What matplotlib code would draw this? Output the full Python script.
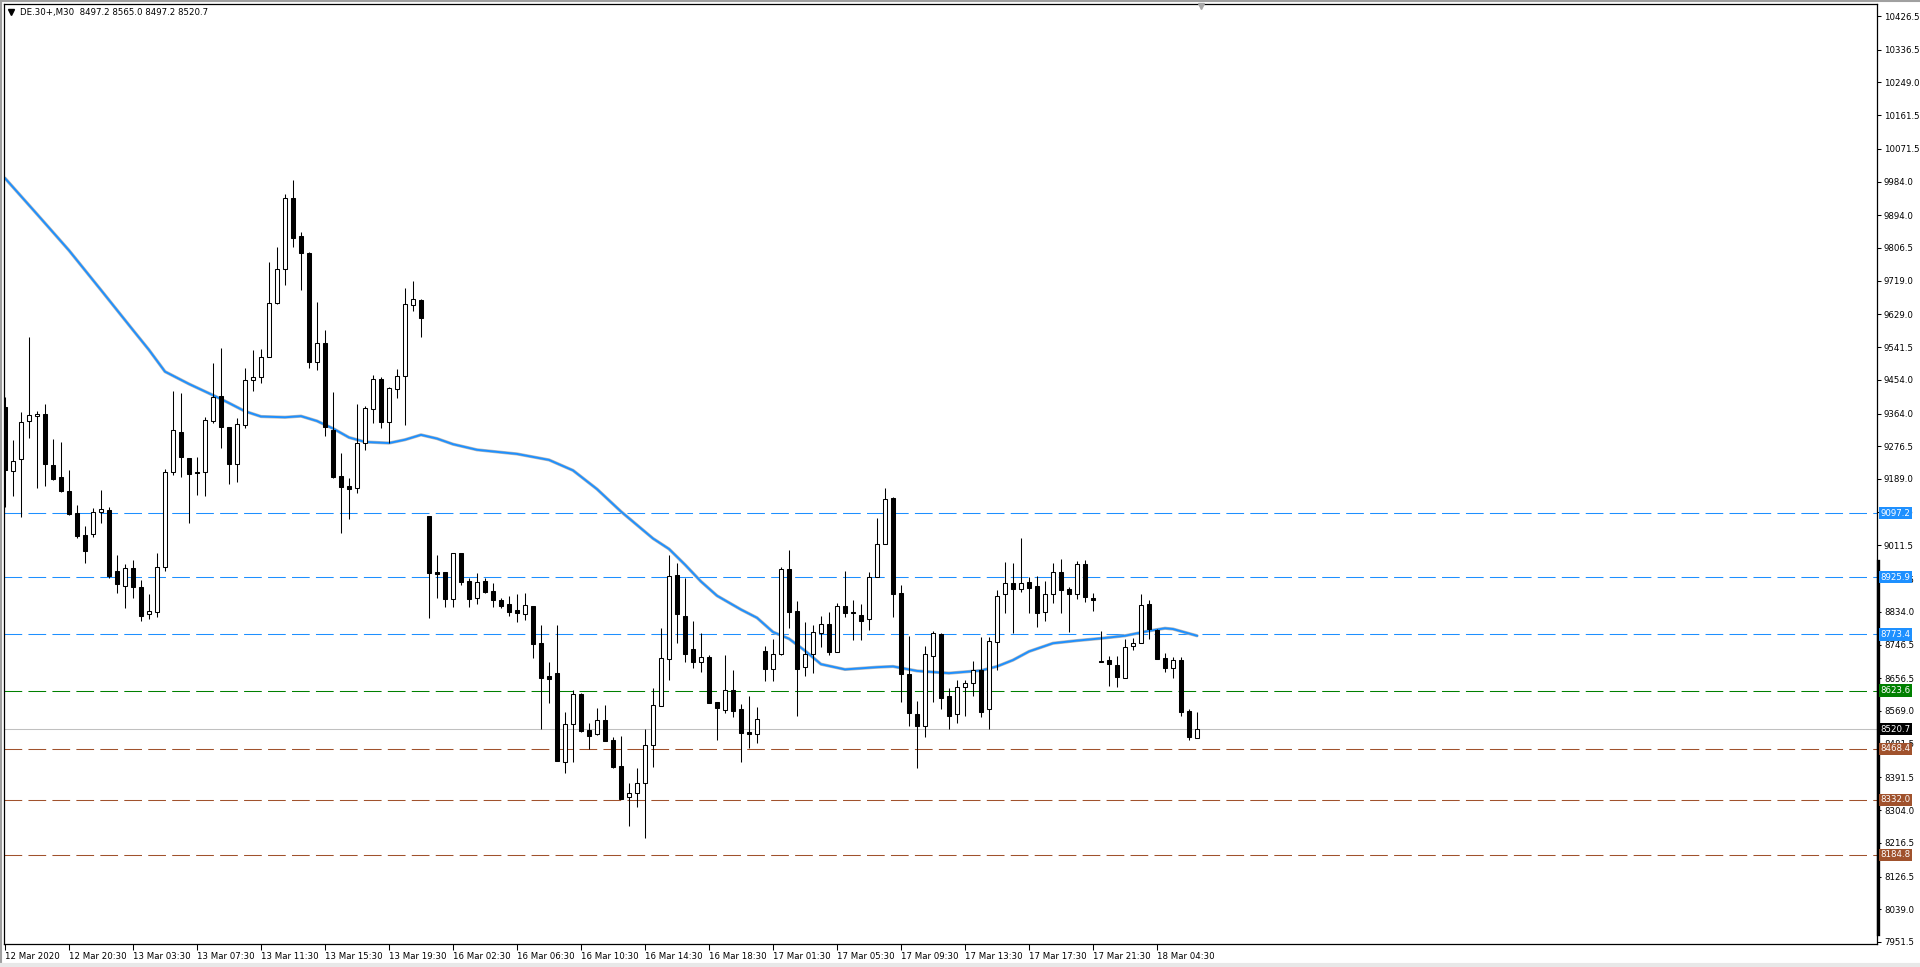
import numpy as np
from matplotlib import pyplot as plt
from matplotlib import transforms
from matplotlib.lines import Line2D

# DE.30+ M30 candles, oldest first
opens = [9382.2, 9211.2, 9241.5, 9344.0, 9357.3, 9362.7, 9226.3, 9194.3, 9156.9, 9097.2,
         9039.3, 9041.0, 9099.8, 9106.1, 8943.0, 8903.8, 8950.1, 8899.4, 8827.2, 8834.3,
         8954.6, 9208.5, 9313.6, 9244.1, 9206.7, 9206.7, 9344.8, 9411.6, 9327.0, 9228.1,
         9333.2, 9453.5, 9460.6, 9515.9, 9658.5, 9750.2, 9939.1, 9838.4, 9792.1, 9500.8,
         9553.4, 9319.9, 9197.0, 9170.2, 9164.0, 9284.2, 9375.1, 9455.3, 9342.1, 9429.5,
         9465.1, 9654.0, 9667.4, 9090.1, 8939.5, 8939.5, 8867.3, 8990.3, 8916.4, 8870.0,
         8916.4, 8889.6, 8865.5, 8854.0, 8838.8, 8827.2, 8849.5, 8749.7, 8662.4, 8669.5,
         8433.4, 8533.2, 8613.4, 8518.1, 8506.5, 8544.8, 8491.3, 8421.8, 8338.1, 8348.8,
         8375.5, 8478.0, 8583.1, 8707.0, 8932.4, 8823.7, 8734.6, 8700.7, 8714.1, 8593.8,
         8571.5, 8625.0, 8574.2, 8511.8, 8507.4, 8729.2, 8680.2, 8720.3, 8948.4, 8836.2,
         8685.6, 8720.3, 8776.5, 8801.4, 8727.4, 8849.5, 8832.6, 8825.5, 8813.9, 8927.9,
         9014.3, 9137.3, 8883.4, 8667.8, 8559.9, 8529.6, 8716.8, 8774.7, 8608.9, 8559.9,
         8632.1, 8642.8, 8678.4, 8573.3, 8754.2, 8880.7, 8910.1, 8894.1, 8912.8, 8903.0,
         8832.6, 8880.7, 8939.5, 8894.1, 8880.7, 8960.9, 8870.0, 8703.4, 8705.2, 8691.8,
         8656.2, 8742.6, 8749.7, 8854.9, 8785.4, 8709.6, 8682.9, 8705.2, 8568.9, 8497.2]
highs = [9409.0, 9293.2, 9367.1, 9569.4, 9370.7, 9389.4, 9295.8, 9286.9, 9213.0, 9119.4,
         9063.3, 9110.5, 9159.5, 9113.2, 8985.8, 8961.7, 8972.4, 8919.0, 8881.5, 8990.2,
         9214.8, 9425.1, 9418.0, 9244.1, 9248.6, 9355.5, 9498.1, 9538.2, 9328.8, 9351.0,
         9484.7, 9533.7, 9535.5, 9768.0, 9808.1, 9949.8, 9988.1, 9848.2, 9794.8, 9663.0,
         9587.2, 9422.4, 9257.5, 9190.7, 9389.4, 9384.9, 9466.0, 9460.6, 9433.9, 9482.0,
         9698.5, 9718.1, 9670.0, 9090.1, 8985.8, 8939.5, 8990.3, 8990.3, 8923.5, 8936.8,
         8925.3, 8910.1, 8871.8, 8877.2, 8881.6, 8883.4, 8849.5, 8798.7, 8700.7, 8798.7,
         8565.3, 8625.0, 8616.1, 8535.9, 8576.0, 8584.9, 8500.2, 8502.9, 8375.5, 8417.4,
         8520.7, 8629.4, 8789.8, 8985.8, 8963.6, 8925.3, 8809.4, 8778.2, 8718.5, 8593.8,
         8718.5, 8678.4, 8587.6, 8609.0, 8578.6, 8742.6, 8761.3, 8954.6, 8999.2, 8862.9,
         8805.9, 8798.7, 8822.8, 8832.6, 8856.6, 8943.1, 8865.5, 8854.0, 8939.5, 9083.8,
         9164.0, 9141.8, 8905.7, 8769.3, 8595.6, 8742.6, 8782.7, 8778.2, 8631.2, 8651.7,
         8651.7, 8702.5, 8765.8, 8767.5, 8892.3, 8966.3, 8963.6, 9030.4, 8927.9, 8929.7,
         8916.4, 8963.6, 8975.1, 8901.2, 8969.8, 8972.5, 8883.4, 8782.7, 8715.9, 8715.9,
         8760.4, 8764.9, 8880.7, 8865.5, 8788.0, 8724.8, 8712.3, 8712.3, 8574.2, 8565.0]
lows = [9113.2, 9143.5, 9088.3, 9297.6, 9164.0, 9171.1, 9186.3, 9155.1, 9092.7, 9030.4,
        8965.3, 9034.8, 9070.4, 8923.4, 8885.1, 8845.0, 8871.7, 8810.3, 8814.7, 8821.0,
        8943.0, 9199.6, 9195.2, 9070.4, 9146.1, 9144.3, 9339.5, 9272.6, 9174.6, 9181.8,
        9324.3, 9425.0, 9446.4, 9514.1, 9657.6, 9707.5, 9809.9, 9694.1, 9486.5, 9480.3,
        9303.9, 9192.5, 9045.4, 9081.1, 9152.4, 9266.4, 9339.5, 9326.1, 9284.2, 9404.5,
        9333.2, 9638.8, 9569.4, 8816.5, 8870.0, 8846.0, 8846.0, 8905.7, 8847.7, 8854.0,
        8883.4, 8847.7, 8845.1, 8823.7, 8807.6, 8812.1, 8709.6, 8519.8, 8589.3, 8436.1,
        8402.3, 8433.4, 8513.6, 8466.4, 8504.7, 8489.5, 8415.6, 8333.6, 8262.3, 8313.1,
        8228.5, 8420.1, 8583.1, 8651.7, 8749.7, 8699.0, 8684.7, 8674.0, 8591.1, 8491.3,
        8562.6, 8553.7, 8431.6, 8470.8, 8482.4, 8649.9, 8649.9, 8718.5, 8791.6, 8556.4,
        8663.3, 8671.3, 8740.8, 8718.5, 8727.4, 8821.0, 8758.6, 8758.6, 8785.4, 8927.9,
        9014.3, 8821.0, 8593.8, 8529.6, 8417.4, 8500.2, 8593.8, 8574.2, 8519.8, 8537.7,
        8556.4, 8609.8, 8553.7, 8519.8, 8678.4, 8829.9, 8778.2, 8886.1, 8831.7, 8792.5,
        8810.3, 8858.4, 8831.7, 8780.9, 8868.2, 8859.3, 8837.0, 8699.0, 8636.6, 8633.9,
        8656.2, 8731.9, 8749.7, 8760.4, 8707.9, 8674.0, 8656.2, 8555.5, 8491.4, 8497.2]
closes = [9213.0, 9237.0, 9340.4, 9360.0, 9362.7, 9228.1, 9188.9, 9157.8, 9094.5, 9037.5,
          8997.4, 9099.8, 9107.9, 8930.6, 8907.4, 8950.1, 8901.1, 8823.6, 8836.1, 8952.8,
          9206.8, 9320.0, 9246.8, 9202.3, 9204.0, 9346.6, 9409.0, 9327.0, 9228.1, 9335.0,
          9453.5, 9460.6, 9515.9, 9658.5, 9750.2, 9939.1, 9834.0, 9792.1, 9500.8, 9551.6,
          9328.8, 9195.2, 9168.4, 9161.3, 9286.1, 9377.8, 9455.3, 9342.1, 9431.2, 9465.1,
          9655.8, 9669.1, 9620.1, 8936.8, 8935.9, 8867.3, 8990.3, 8914.6, 8867.3, 8912.8,
          8887.8, 8865.5, 8850.4, 8834.4, 8829.9, 8852.2, 8747.0, 8657.9, 8653.5, 8436.1,
          8533.2, 8613.4, 8516.3, 8502.9, 8544.8, 8489.5, 8420.1, 8333.6, 8348.8, 8375.5,
          8478.0, 8584.9, 8709.6, 8929.7, 8827.2, 8720.3, 8700.7, 8712.3, 8591.1, 8576.0,
          8625.0, 8569.8, 8509.1, 8507.4, 8546.6, 8681.1, 8720.3, 8948.4, 8834.4, 8680.2,
          8721.2, 8779.1, 8801.4, 8727.4, 8849.5, 8831.7, 8829.9, 8810.3, 8926.1, 9014.3,
          9134.6, 8881.6, 8666.9, 8562.6, 8529.6, 8720.3, 8776.5, 8604.5, 8556.4, 8632.1,
          8642.8, 8678.4, 8565.3, 8755.9, 8876.2, 8910.1, 8894.1, 8910.1, 8898.5, 8829.9,
          8880.7, 8939.5, 8892.3, 8880.7, 8960.9, 8872.7, 8865.5, 8700.7, 8693.6, 8660.6,
          8740.8, 8749.7, 8852.2, 8788.0, 8707.9, 8682.9, 8705.2, 8567.1, 8498.5, 8520.7]

# moving average (blue line), read at candle indices
ma_idx = [0, 4, 8, 12, 16, 18, 20, 23, 26, 28, 30, 32, 35, 37, 39, 41, 43, 45, 48, 50, 52,
          54, 56, 59, 64, 68, 71, 74, 77, 81, 83, 85, 87, 89, 92, 94, 96, 98, 100, 102,
          105, 109, 111, 114, 118, 122, 124, 126, 128, 131, 134, 137, 140, 143, 145, 146, 149]
ma_val = [9993, 9897, 9800, 9694, 9587, 9534, 9476, 9443, 9413, 9392, 9370, 9356, 9354,
          9357, 9344, 9324, 9300, 9288, 9285, 9294, 9307, 9297, 9282, 9267, 9256, 9240,
          9212, 9162, 9102, 9030, 9002, 8960, 8915, 8877, 8840, 8818, 8780, 8762, 8730,
          8694, 8680, 8686, 8688, 8676, 8670, 8677, 8688, 8705, 8728, 8750, 8757, 8763,
          8770, 8783, 8790, 8788, 8770]

# horizontal levels
levels = [9097.2, 8925.9, 8773.4, 8623.6, 8468.4, 8332.0, 8184.8]
level_colors = ['#1E90FF', '#1E90FF', '#1E90FF', '#008000', '#A0522D', '#A0522D', '#A0522D']
bid = 8520.7

price_ticks = [10426.5, 10336.5, 10249.0, 10161.5, 10071.5, 9984.0, 9894.0, 9806.5, 9719.0,
               9629.0, 9541.5, 9454.0, 9364.0, 9276.5, 9189.0, 9101.5, 9011.5, 8921.5,
               8834.0, 8746.5, 8656.5, 8569.0, 8481.5, 8391.5, 8304.0, 8216.5, 8126.5,
               8039.0, 7951.5]
time_labels = ['12 Mar 2020', '12 Mar 20:30', '13 Mar 03:30', '13 Mar 07:30', '13 Mar 11:30',
               '13 Mar 15:30', '13 Mar 19:30', '16 Mar 02:30', '16 Mar 06:30', '16 Mar 10:30',
               '16 Mar 14:30', '16 Mar 18:30', '17 Mar 01:30', '17 Mar 05:30', '17 Mar 09:30',
               '17 Mar 13:30', '17 Mar 17:30', '17 Mar 21:30', '18 Mar 04:30']

FS = 6.2
fig = plt.figure(figsize=(19.2, 9.67), dpi=100)
ax = fig.add_axes([4 / 1920, 23 / 967, 1873 / 1920, 940 / 967])

o = np.array(opens)
h = np.array(highs)
l = np.array(lows)
c = np.array(closes)
x = np.arange(len(o))
up = c >= o

# wicks then bodies
ax.vlines(x, l, h, color='black', linewidth=0.75, zorder=3)
ax.bar(x[up], (c - o)[up], bottom=o[up], width=0.6, color='white',
       edgecolor='black', linewidth=0.75, zorder=4)
ax.bar(x[~up], (o - c)[~up], bottom=c[~up], width=0.6, color='black',
       edgecolor='black', linewidth=0.75, zorder=4)

# moving average
ax.plot(ma_idx, ma_val, color='#B8B8B8', linewidth=2.3, zorder=2, solid_capstyle='round',
        solid_joinstyle='round')
ax.plot(ma_idx, ma_val, color='#1E90FF', linewidth=1.4, zorder=2, solid_joinstyle='round')

# levels
for lv, col in zip(levels, level_colors):
    ax.axhline(lv, color=col, linewidth=0.75, dashes=(17, 6), zorder=1)
ax.axhline(bid, color='#C0C0C0', linewidth=0.75, zorder=1)

ax.set_xlim(-0.125, 234)
ax.set_ylim(7946.1, 10458.6)

# axes look
for s in ax.spines.values():
    s.set_color('black')
    s.set_linewidth(0.9)
ax.yaxis.tick_right()
ax.set_yticks(price_ticks)
ax.set_yticklabels([f'{v:.1f}' for v in price_ticks])
ax.tick_params(axis='y', direction='out', length=3, width=0.75, pad=2, labelsize=FS)
ax.set_xticks(np.arange(0, 8 * len(time_labels), 8))
ax.set_xticklabels(time_labels, ha='left')
ax.tick_params(axis='x', direction='out', length=4, width=0.75, pad=2, labelsize=FS)

# price labels on the right scale
trans = transforms.blended_transform_factory(ax.transAxes, ax.transData)
for lv, col in zip(levels, level_colors):
    ax.text(1.0018, lv, f'{lv:.1f}', transform=trans, color='white', fontsize=FS,
            va='center', ha='left', zorder=10, clip_on=False,
            bbox=dict(boxstyle='square,pad=0.18', fc=col, ec='none'))
ax.text(1.0018, bid, f'{bid:.1f}', transform=trans, color='white', fontsize=FS,
        va='center', ha='left', zorder=10, clip_on=False,
        bbox=dict(boxstyle='square,pad=0.18', fc='black', ec='none'))

# thick marker along the price scale
ax.plot([1.0006, 1.0006], [7972.9, 8969.8], transform=trans, color='black',
        linewidth=2.4, clip_on=False, zorder=9)

# header
fig.add_artist(Line2D([11 / 1920], [1 - 12 / 967], transform=fig.transFigure,
                      marker='v', markersize=4, color='black'))
fig.text(20 / 1920, 1 - 12 / 967, 'DE.30+,M30  8497.2 8565.0 8497.2 8520.7',
         fontsize=FS, va='center', ha='left')

# chart shift marker
fig.add_artist(Line2D([1201 / 1920], [1 - 6 / 967], transform=fig.transFigure,
                      marker='v', markersize=5, color='#A8A8A8'))

# window frame
fig.add_artist(Line2D([0, 1], [1 - 1 / 967, 1 - 1 / 967], transform=fig.transFigure,
                      color='#A0A0A0', linewidth=1.5))
fig.add_artist(Line2D([1 / 1920, 1 / 1920], [0, 1], transform=fig.transFigure,
                      color='#A0A0A0', linewidth=1.5))
fig.add_artist(Line2D([0, 1], [2 / 967, 2 / 967], transform=fig.transFigure,
                      color='#E8E8E8', linewidth=3))

fig.savefig('out.png', dpi=100)
